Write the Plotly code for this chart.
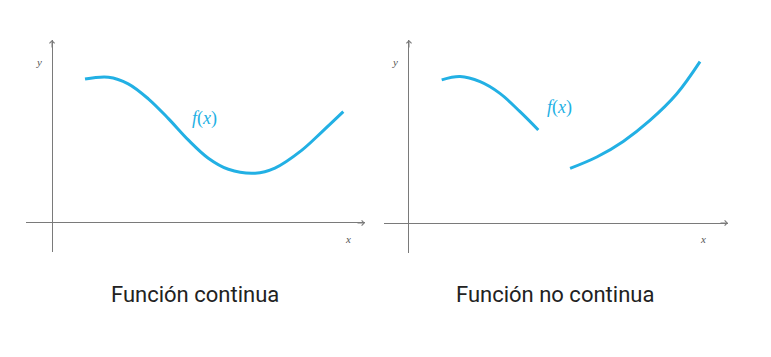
import plotly.graph_objects as go

# ---- data ----
cont_x = [1.10, 1.88, 2.54, 3.21, 3.88, 4.54, 5.21, 5.88, 6.77, 7.43, 8.32, 8.99, 9.71]
cont_y = [4.80, 4.86, 4.64, 4.14, 3.48, 2.77, 2.16, 1.79, 1.66, 1.83, 2.42, 3.03, 3.71]

disc1_x = [1.09, 1.70, 2.37, 3.03, 3.70, 4.31]
disc1_y = [4.77, 4.88, 4.71, 4.32, 3.71, 3.10]
disc2_x = [5.37, 6.26, 7.14, 8.03, 8.92, 9.70]
disc2_y = [1.82, 2.20, 2.72, 3.42, 4.30, 5.38]

titles = ["Función continua", "Función no continua"]
curve_label = "<i>f</i>(<i>x</i>)"

W, H = 771, 357
CURVE = "#22b0e4"
AXIS = "#7a7a7a"

fig = go.Figure()
line = dict(color=CURVE, width=3, shape="spline", smoothing=1.0)
fig.add_trace(go.Scatter(x=cont_x, y=cont_y, mode="lines", line=line, xaxis="x", yaxis="y", hoverinfo="skip"))
fig.add_trace(go.Scatter(x=disc1_x, y=disc1_y, mode="lines", line=line, xaxis="x2", yaxis="y2", hoverinfo="skip"))
fig.add_trace(go.Scatter(x=disc2_x, y=disc2_y, mode="lines", line=line, xaxis="x2", yaxis="y2", hoverinfo="skip"))

def ax(domain, rng, anchor):
    return dict(domain=domain, range=rng, anchor=anchor, showgrid=False, showticklabels=False,
                ticks="", showline=False, zeroline=True, zerolinecolor=AXIS, zerolinewidth=1,
                fixedrange=True)

xr1 = [-0.867, 10.433]; yr1 = [-0.967, 6.1]
xr2 = [-0.833, 10.633]; yr2 = [-1.0, 6.1]
fig.update_layout(
    width=W, height=H, margin=dict(l=0, r=0, t=0, b=0),
    paper_bgcolor="white", plot_bgcolor="white", showlegend=False,
    xaxis=ax([26 / W, 365 / W], xr1, "y"),
    yaxis=ax([(H - 252) / H, (H - 40) / H], yr1, "x"),
    xaxis2=ax([384 / W, 728 / W], xr2, "y2"),
    yaxis2=ax([(H - 253) / H, (H - 40) / H], yr2, "x2"),
)

anns = []
serif = "Liberation Serif"
for (xa, ya, xr, yr) in [("x", "y", xr1, yr1), ("x2", "y2", xr2, yr2)]:
    anns.append(dict(x=xr[1], y=0, ax=xr[1] - 0.3, ay=0, xref=xa, yref=ya, axref=xa, ayref=ya,
                     showarrow=True, arrowhead=4, arrowsize=1, arrowwidth=1, arrowcolor=AXIS, text=""))
    anns.append(dict(x=0, y=yr[1], ax=0, ay=yr[1] - 0.3, xref=xa, yref=ya, axref=xa, ayref=ya,
                     showarrow=True, arrowhead=4, arrowsize=1, arrowwidth=1, arrowcolor=AXIS, text=""))

small = dict(family=serif, size=11, color="#555")
anns += [
    dict(x=-0.43, y=5.37, xref="x", yref="y", text="<i>y</i>", showarrow=False, font=small),
    dict(x=9.87, y=-0.53, xref="x", yref="y", text="<i>x</i>", showarrow=False, font=small),
    dict(x=-0.47, y=5.37, xref="x2", yref="y2", text="<i>y</i>", showarrow=False, font=small),
    dict(x=9.8, y=-0.53, xref="x2", yref="y2", text="<i>x</i>", showarrow=False, font=small),
    dict(x=5.07, y=3.5, xref="x", yref="y", text=curve_label, showarrow=False,
         font=dict(family=serif, size=18, color=CURVE)),
    dict(x=5.0, y=3.85, xref="x2", yref="y2", text=curve_label, showarrow=False,
         font=dict(family=serif, size=18, color=CURVE)),
]
for cx, t in zip([195, 555], titles):
    anns.append(dict(x=cx / W, y=(H - 294) / H, xref="paper", yref="paper", text=t, showarrow=False,
                     xanchor="center", yanchor="middle",
                     font=dict(family="Roboto", size=22, color="#222")))
fig.update_layout(annotations=anns)

fig.write_html("out.html", config=dict(displayModeBar=False, staticPlot=True))
